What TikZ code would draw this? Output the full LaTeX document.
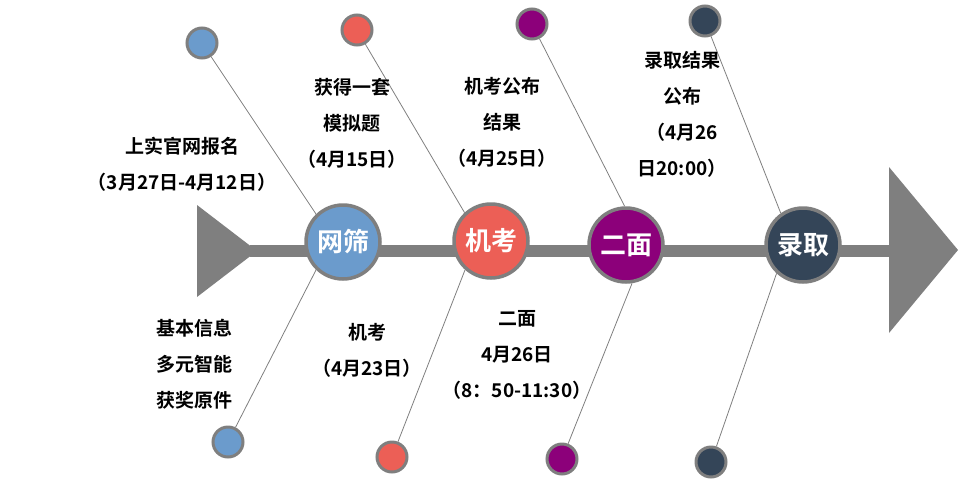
\documentclass[tikz,border=0pt]{standalone}
\usepackage{fontspec}
\newfontfamily\cjk{Noto Sans CJK SC}[UprightFont=* Bold]
\definecolor{cGray}{HTML}{7F7F7F}
\definecolor{cBlue}{HTML}{6B9BCC}
\definecolor{cRed}{HTML}{EC5F56}
\definecolor{cPurple}{HTML}{8C007A}
\definecolor{cNavy}{HTML}{344558}
\begin{document}
\begin{tikzpicture}
    [x=1pt,y=-1pt,
    bigdot/.style={circle,draw=cGray,line width=3.5pt,minimum size=74pt,inner sep=0pt,text=white,font=\cjk\fontsize{26}{30}\selectfont},
    smalldot/.style={circle,draw=cGray,line width=3pt,minimum size=30pt,inner sep=0pt},
    twig/.style={draw=cGray,line width=0.8pt},
    note/.style={align=center,font=\cjk\fontsize{19}{36}\selectfont}]
    \useasboundingbox (0,0) rectangle (964,496);
    %spine
    \fill[cGray] (197,205)--(257,251)--(197,297)--cycle;
    \fill[cGray] (889,167)--(958,250)--(889,333)--cycle;
    \coordinate (spineL) at (250,251);
    \coordinate (spineR) at (892,251);
    \draw[cGray,line width=12pt] (spineL)--(spineR);
    %stages
    \node[bigdot,fill=cBlue] (wangshai) at (343,242) {网筛};
    \node[bigdot,fill=cRed] (jikao) at (491,241) {机考};
    \node[bigdot,fill=cPurple] (ermian) at (626,245) {二面};
    \node[bigdot,fill=cNavy] (luqu) at (803,245) {录取};
    %small dots
    \node[smalldot,fill=cBlue] (wangshaiA) at (202,43) {};
    \node[smalldot,fill=cBlue] (wangshaiB) at (228,442) {};
    \node[smalldot,fill=cRed] (jikaoA) at (357,30) {};
    \node[smalldot,fill=cRed] (jikaoB) at (392,457) {};
    \node[smalldot,fill=cPurple] (ermianA) at (532,24) {};
    \node[smalldot,fill=cPurple] (ermianB) at (562,459) {};
    \node[smalldot,fill=cNavy] (luquA) at (705,21) {};
    \node[smalldot,fill=cNavy] (luquB) at (711,462) {};
    %twigs
    \draw[twig] (wangshaiA)--(wangshai.134);
    \draw[twig] (wangshaiB)--(wangshai.226);
    \draw[twig] (jikaoA)--(jikao.133);
    \draw[twig] (jikaoB)--(jikao.228);
    \draw[twig] (ermianA)--(ermian.92);
    \draw[twig] (ermianB)--(ermian.279);
    \draw[twig] (luquA)--(luqu.125);
    \draw[twig] (luquB)--(luqu.227);
    %notes above
    \node[note] (noteA) at (182,164) {上实官网报名\\（3月27日-4月12日）};
    \node[note] (noteB) at (352,123) {获得一套\\模拟题\\（4月15日）};
    \node[note] (noteC) at (502,122) {机考公布\\结果\\（4月25日）};
    \node[note] (noteD) at (682,114) {录取结果\\公布\\（4月26\\日20:00）};
    %notes below
    \node[note] (noteE) at (194,364) {基本信息\\多元智能\\获奖原件};
    \node[note] (noteF) at (367,350) {机考\\（4月23日）};
    \node[note] (noteG) at (517,355) {二面\\4月26日\\（8：50-11:30）};
\end{tikzpicture}
\end{document}
